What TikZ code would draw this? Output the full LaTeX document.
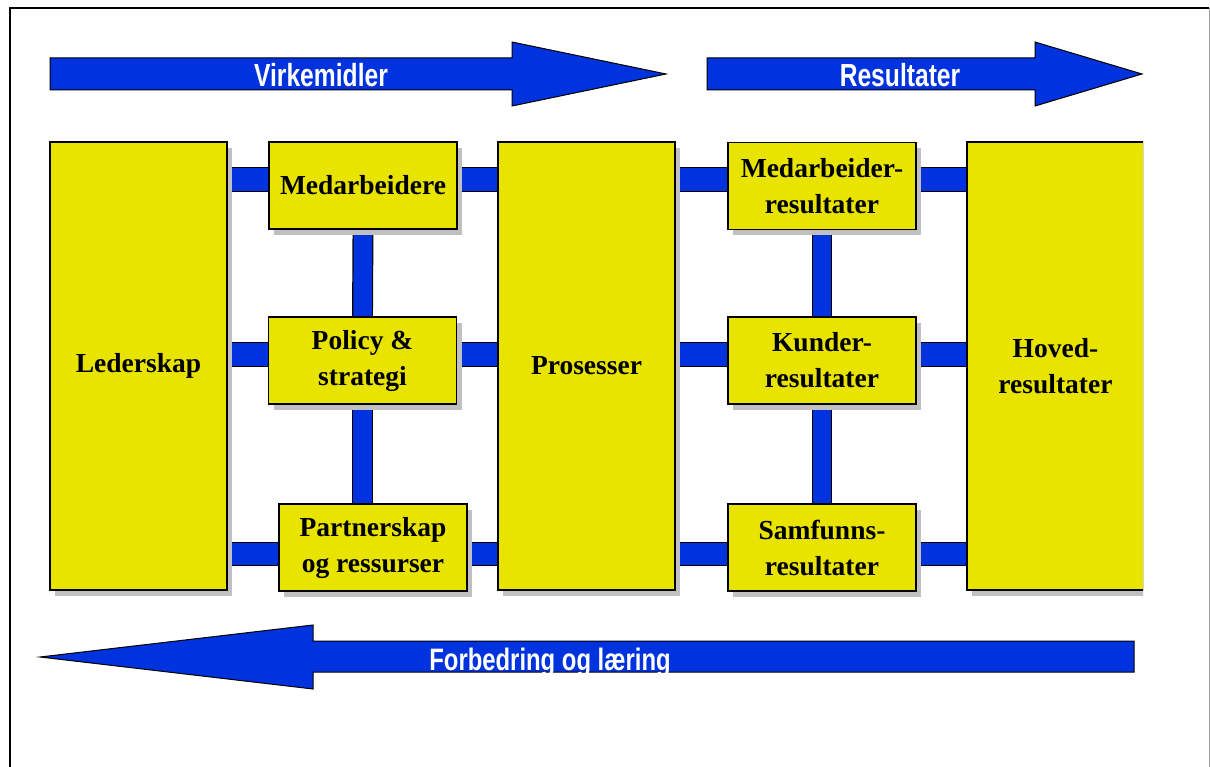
\documentclass[tikz,border=0pt]{standalone}
\usepackage{fontspec}
\setmainfont{Liberation Serif}
\newfontfamily\arrowfont[FakeStretch=0.77]{Liberation Sans}
\usepackage{xcolor}
\usepackage{tikz}
\usetikzlibrary{positioning,shadows,backgrounds}
\definecolor{efYellow}{HTML}{E8E400}
\definecolor{efBlue}{HTML}{0033DD}
\definecolor{efShadow}{HTML}{C0C0C0}
\definecolor{efFrame}{HTML}{A0A0A0}
\tikzset{
  ef-box/.style={
    draw=black, line width=1.2pt, fill=efYellow,
    drop shadow={shadow xshift=5pt, shadow yshift=-6pt,
      fill=efShadow, opacity=1},
    font=\bfseries\fontsize{27.5}{36}\selectfont, align=center,
    inner sep=0pt, minimum width=188pt, minimum height=87pt
  },
  ef-tall/.style={ef-box, minimum width=177pt, minimum height=448pt},
  ef-hbar/.style={draw=black, line width=1.2pt, double=efBlue,
    double distance=22.5pt},
  ef-vbar/.style={ef-hbar, double distance=18.5pt},
  ef-arrow/.style={draw=black, line width=1pt, fill=efBlue},
  ef-label/.style={font=\arrowfont\bfseries\fontsize{32}{32}\selectfont,
    text=white, anchor=base, inner sep=0pt}
}

\begin{document}
\begin{tikzpicture}[x=1pt, y=-1pt]
\useasboundingbox (0,0) rectangle (1210,767);
% frame
\draw[line width=1.5pt] (10,767) -- (10,8) -- (1209,8);
\draw[efFrame, line width=1pt] (1209,8) -- (1209,767);

% arrows
\draw[ef-arrow] (50,58) -- (512,58) -- (512,42) -- (666,74)
  -- (512,106) -- (512,90) -- (50,90) -- cycle;
\node[ef-label] (virk) at (321,87) {Virkemidler};
\draw[ef-arrow] (707,58) -- (1035,58) -- (1035,42) -- (1142,74)
  -- (1035,106) -- (1035,90) -- (707,90) -- cycle;
\node[ef-label] (res) at (900,87) {Resultater};
\draw[ef-arrow] (1134,641) -- (313,641) -- (313,625) -- (40,657)
  -- (313,689) -- (313,672) -- (1134,672) -- cycle;
\node[ef-label, font=\arrowfont\bfseries\fontsize{31}{31}\selectfont]
  (forb) at (550,670) {Forbedring og læring};

% boxes
\node[ef-tall] (led) at (138.5,366) {Lederskap};
\node[ef-box] (med) at (363,185.5) {Medarbeidere};
\node[ef-box] (pol) at (362.5,360.5) {Policy \&\\ strategi};
\node[ef-box] (par) at (373,547.5) {Partnerskap\\ og ressurser};
\node[ef-tall] (pros) at (586.5,366) {Prosesser};
\node[ef-box] (mres) at (822,186) {Medarbeider-\\ resultater};
\node[ef-box] (kres) at (822,360.5) {Kunder-\\ resultater};
\node[ef-box] (sres) at (822,547.5) {Samfunns-\\ resultater};
\begin{scope}
  \clip (0,0) rectangle (1143,767);
  \node[ef-tall] (hov) at (1055.5,366) {Hoved-\\ resultater};
\end{scope}

% connectors
\begin{scope}[on background layer]
\draw[ef-hbar] ([yshift=6pt]led.east |- med.west)
  -- ([yshift=6pt]hov.west |- med.west);
\draw[ef-hbar] ([yshift=6pt]led.east |- pol.west)
  -- ([yshift=6pt]hov.west |- pol.west);
\draw[ef-hbar] ([yshift=-6.5pt]led.east |- par.west)
  -- ([yshift=-6.5pt]hov.west |- par.west);
\draw[ef-vbar] (med.south) -- (pol.north);
\draw[ef-vbar] (pol.south) -- (pol.south |- par.north);
\draw[ef-vbar] (mres.south) -- (kres.north);
\draw[ef-vbar] (kres.south) -- (sres.north);
\end{scope}
\end{tikzpicture}
\end{document}
